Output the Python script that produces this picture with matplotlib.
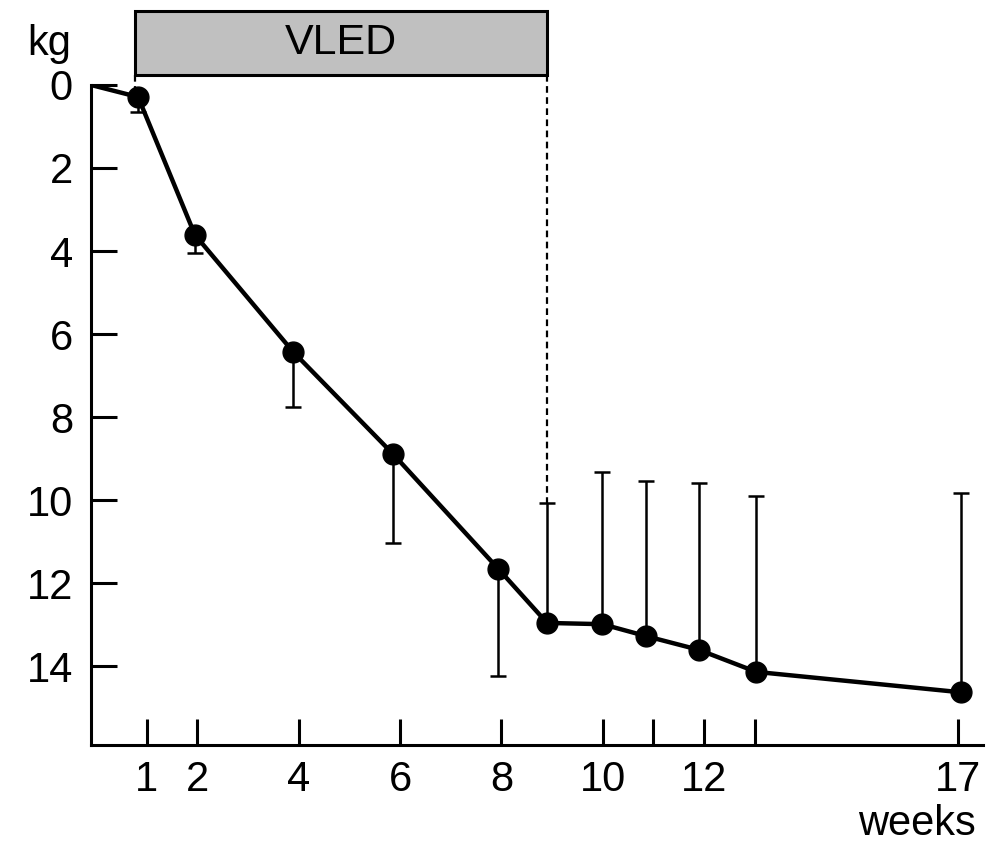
import matplotlib.pyplot as plt
import numpy as np

plt.rcParams['font.family'] = ['Liberation Sans', 'DejaVu Sans']

# weight loss (kg) during and after VLED
weeks = np.array([0.83, 1.95, 3.89, 5.86, 7.94, 8.9, 9.99, 10.86, 11.9, 13.03, 17.06])
loss = np.array([0.29, 3.61, 6.43, 8.89, 11.66, 12.96, 12.99, 13.28, 13.61, 14.14, 14.63])
sd = np.array([0.36, 0.44, 1.33, 2.15, 2.58, 2.89, 3.66, 3.74, 4.02, 4.24, 4.80])
vled_start = 0.77
vled_end = 8.9

xticks = [1, 2, 4, 6, 8, 10, 11, 12, 13, 17]
xlabels = ['1', '2', '4', '6', '8', '10', '', '12', '', '17']
yticks = [0, 2, 4, 6, 8, 10, 12, 14]

fig = plt.figure(figsize=(10.01, 8.48), dpi=100)
ax = fig.add_axes([0.0909, 0.1215, 0.891, 0.7783])

# SD bars: below during VLED, above afterwards
during = weeks <= vled_end - 0.5
lower = np.where(during, 0, sd)
upper = np.where(during, sd, 0)
ax.errorbar(weeks, loss, yerr=[lower, upper], fmt='none', ecolor='black',
            elinewidth=1.8, capsize=6, capthick=1.8, zorder=2)

x0 = -0.1
ax.plot(np.r_[x0, weeks], np.r_[0, loss], color='black', lw=3.2, zorder=3)
ax.plot(weeks, loss, 'o', color='black', ms=15, zorder=4)

ax.set_xlim(x0, 17.5)
ax.set_ylim(15.9, 0)

# VLED box above the plot
ax.add_patch(plt.Rectangle((vled_start, -0.24), vled_end - vled_start, -1.53,
                           facecolor='#c0c0c0', edgecolor='black', lw=2.2, clip_on=False))
ax.text((vled_start + vled_end) / 2, -1.0, 'VLED', fontsize=31, ha='center', va='center')
ax.plot([vled_start, vled_start], [-0.24, loss[0]], ls=(0, (3, 2)), color='black', lw=1.6, clip_on=False)
ax.plot([vled_end, vled_end], [-0.24, loss[5] - sd[5]], ls=(0, (3, 2)), color='black', lw=1.6, clip_on=False)

ax.set_xticks(xticks)
ax.set_xticklabels(xlabels)
ax.set_yticks(yticks)
ax.tick_params(direction='in', length=19, width=2.2, labelsize=30)
ax.tick_params(axis='y', pad=13)
ax.tick_params(axis='x', pad=11)

for s in ['top', 'right']:
    ax.spines[s].set_visible(False)
for s in ['left', 'bottom']:
    ax.spines[s].set_linewidth(2.2)

fig.text(0.027, 0.948, 'kg', fontsize=30, ha='left', va='center')
fig.text(0.975, 0.005, 'weeks', fontsize=30, ha='right', va='bottom')

plt.savefig('out.png', dpi=100)
